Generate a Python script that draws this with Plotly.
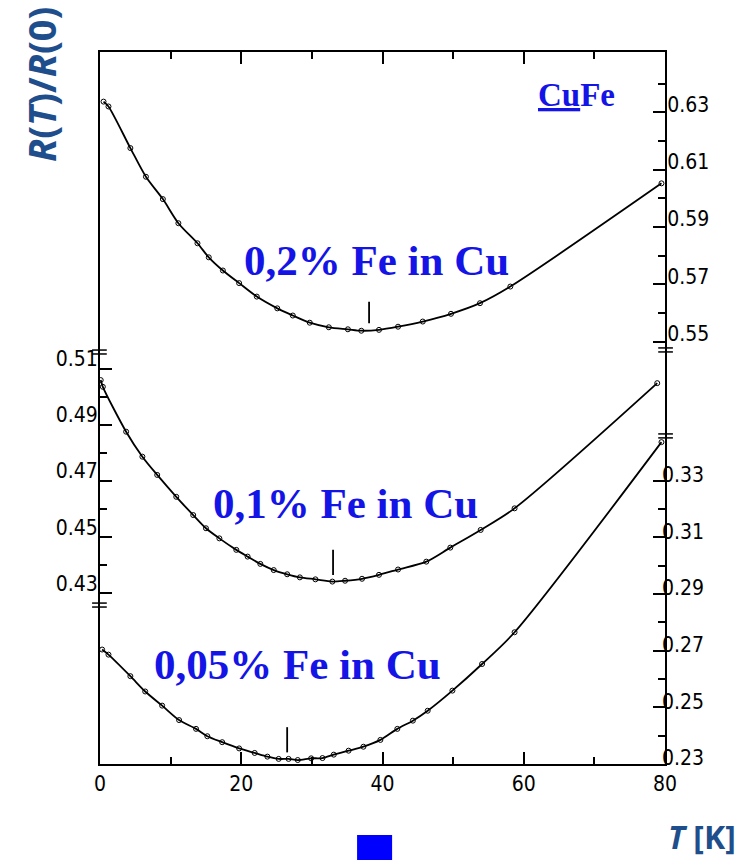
import plotly.graph_objects as go

# ---------------- data ----------------
# 0.2 % Fe in Cu  (right axis, upper section)
T_02 = [0.5, 1.2, 4.3, 6.5, 8.9, 11.1, 13.8, 15.4, 17.4, 19.7, 22.2, 25.1, 27.3, 29.7,
        32.4, 35.1, 37.0, 39.5, 42.2, 45.7, 49.7, 53.8, 58.1, 79.5]
R_02 = [0.6337, 0.6320, 0.6175, 0.6075, 0.5997, 0.5913, 0.5843, 0.5794, 0.5748, 0.5704,
        0.5657, 0.5616, 0.5591, 0.5566, 0.5550, 0.5543, 0.5538, 0.5541, 0.5552, 0.5570,
        0.5597, 0.5634, 0.5692, 0.6052]

# 0.1 % Fe in Cu  (left axis, middle section)
T_01 = [0.1, 0.4, 3.7, 6.0, 8.1, 10.8, 13.2, 15.0, 16.9, 19.3, 20.9, 22.7, 24.6, 26.5,
        28.3, 30.5, 32.9, 34.7, 37.1, 39.5, 42.2, 46.2, 49.6, 53.9, 58.7, 78.9]
R_01 = [0.5060, 0.5036, 0.4876, 0.4787, 0.4722, 0.4644, 0.4579, 0.4532, 0.4496, 0.4455,
        0.4431, 0.4405, 0.4383, 0.4368, 0.4357, 0.4350, 0.4342, 0.4345, 0.4352, 0.4366,
        0.4385, 0.4413, 0.4463, 0.4526, 0.4603, 0.5049]

# 0.05 % Fe in Cu (right axis, lower section)
T_005 = [0.3, 1.2, 4.3, 6.4, 8.8, 11.2, 13.6, 15.2, 17.3, 19.7, 21.9, 23.7, 25.3, 26.7,
         28.0, 29.9, 31.5, 33.1, 35.2, 37.3, 39.7, 42.1, 44.3, 46.4, 49.9, 54.1, 58.7, 79.5]
R_005 = [0.2704, 0.2686, 0.2610, 0.2556, 0.2506, 0.2455, 0.2424, 0.2398, 0.2377, 0.2355,
         0.2339, 0.2326, 0.2318, 0.2318, 0.2314, 0.2320, 0.2321, 0.2333, 0.2347, 0.2361,
         0.2385, 0.2424, 0.2453, 0.2488, 0.2559, 0.2653, 0.2765, 0.3436]

# position of the resistance minimum (short vertical marks)
TMIN = [38.1, 33.0, 26.5]
TMIN_LO = [0.5564, 0.4365, 0.2341]
TMIN_HI = [0.5639, 0.4455, 0.2430]

LABELS = ["0,2% Fe in Cu", "0,1% Fe in Cu", "0,05% Fe in Cu"]

# ticks
X_MAJOR = [0, 20, 40, 60, 80]
X_MINOR = [10, 30, 50, 70]
Y_TOP_MAJOR = [0.55, 0.57, 0.59, 0.61, 0.63]
Y_TOP_MINOR = [0.56, 0.58, 0.60, 0.62, 0.64]
Y_MID_MAJOR = [0.43, 0.45, 0.47, 0.49, 0.51]
Y_MID_MINOR = [0.44, 0.46, 0.48, 0.50]
Y_BOT_MAJOR = [0.23, 0.25, 0.27, 0.29, 0.31, 0.33]
Y_BOT_MINOR = [0.24, 0.26, 0.28, 0.30, 0.32]
Y_TOP_LEFT = [0.55, 0.56, 0.57, 0.58, 0.59, 0.60, 0.61, 0.62, 0.63, 0.64]
Y_BOT_LEFT = [0.24, 0.25, 0.26, 0.27, 0.28]
Y_MID_RIGHT = [0.49, 0.50, 0.51]

# axis breaks (axis, value)
BREAKS_LEFT = [("y", 0.5160), ("y3", 0.2861)]
BREAKS_RIGHT = [("y2", 0.5471), ("y3", 0.3458)]

RANGE_TOP = [0.4027, 0.6510]
RANGE_MID = [0.3692, 0.6229]
RANGE_BOT = [0.2300, 0.4813]

# ---------------- figure ----------------
TICKFONT = dict(family="DejaVu Sans Condensed, sans-serif", size=21, color="black")
BLUE = "#1414E6"
TITLEBLUE = "#1F4E8C"

fig = go.Figure()

line = dict(color="black", width=1.8, shape="spline", smoothing=0.8)
marker = dict(symbol="circle-open", size=5, color="black", line=dict(width=1))

fig.add_trace(go.Scatter(x=T_02, y=R_02, yaxis="y2", mode="lines+markers",
                         line=line, marker=marker, showlegend=False))
fig.add_trace(go.Scatter(x=T_01, y=R_01, yaxis="y", mode="lines+markers",
                         line=line, marker=marker, showlegend=False))
fig.add_trace(go.Scatter(x=T_005, y=R_005, yaxis="y3", mode="lines+markers",
                         line=line, marker=marker, showlegend=False))

for t, lo, hi, ax in zip(TMIN, TMIN_LO, TMIN_HI, ["y2", "y", "y3"]):
    fig.add_trace(go.Scatter(x=[t, t], y=[lo, hi], yaxis=ax, mode="lines",
                             line=dict(color="black", width=1.8), showlegend=False,
                             hoverinfo="skip"))

common = dict(showgrid=False, zeroline=False, ticks="inside", tickcolor="black",
              tickwidth=1.5, ticklen=12, tickfont=TICKFONT, anchor="x",
              ticklabelstandoff=-4)

def minor(vals):
    return dict(tickvals=vals, ticks="inside", ticklen=7, tickcolor="black", tickwidth=1.5)

def ticks_only(rng, side, vals):
    return dict(range=rng, side=side, overlaying="y", showline=False, showgrid=False,
                zeroline=False, ticks="inside", ticklen=7, tickwidth=1.5,
                tickcolor="black", tickvals=vals, showticklabels=False, anchor="x")

fig.update_layout(
    width=747, height=852, autosize=False,
    margin=dict(l=92, r=90, t=44, b=96),
    paper_bgcolor="white", plot_bgcolor="white",
    xaxis=dict(range=[0, 80], showgrid=False, zeroline=False, showline=True,
               linewidth=2, linecolor="black", mirror="ticks",
               ticks="inside", tickvals=X_MAJOR, ticktext=[str(v) for v in X_MAJOR],
               ticklen=12, tickwidth=1.5, tickcolor="black", tickfont=TICKFONT,
               minor=minor(X_MINOR)),
    yaxis=dict(range=RANGE_MID, side="left", showline=True, linewidth=2, linecolor="black",
               tickvals=Y_MID_MAJOR, ticktext=[f"{v:.2f}" for v in Y_MID_MAJOR],
               minor=minor(Y_MID_MINOR), ticklabelshift=-10, **common),
    yaxis2=dict(range=RANGE_TOP, side="right", overlaying="y", showline=True, linewidth=2,
                linecolor="black",
                tickvals=Y_TOP_MAJOR, ticktext=[f"{v:.2f}" for v in Y_TOP_MAJOR],
                minor=minor(Y_TOP_MINOR), ticklabelshift=-8, **common),
    yaxis3=dict(range=RANGE_BOT, side="right", overlaying="y", showline=False,
                tickvals=Y_BOT_MAJOR, ticktext=[f"{v:.2f}" for v in Y_BOT_MAJOR],
                minor=minor(Y_BOT_MINOR), ticklabelshift=-6, **common),
    yaxis4=ticks_only(RANGE_TOP, "left", Y_TOP_LEFT),
    yaxis5=ticks_only(RANGE_BOT, "left", Y_BOT_LEFT),
    yaxis6=ticks_only(RANGE_MID, "right", Y_MID_RIGHT),
)

# axis break marks
shapes = []
gap = 0.0007
for (ax, v) in BREAKS_LEFT:
    for d in (-gap, gap):
        shapes.append(dict(type="line", xref="paper", yref=ax, x0=-0.014, x1=0.012,
                           y0=v + d, y1=v + d, line=dict(color="black", width=1.5)))
for (ax, v) in BREAKS_RIGHT:
    for d in (-gap, gap):
        shapes.append(dict(type="line", xref="paper", yref=ax, x0=0.988, x1=1.014,
                           y0=v + d, y1=v + d, line=dict(color="black", width=1.5)))
# blue square below plot
shapes.append(dict(type="rect", xref="paper", yref="paper", x0=0.455, x1=0.517,
                   y0=-0.136, y1=-0.0997, fillcolor="#0000FF", line=dict(width=0)))
fig.update_layout(shapes=shapes)

serif = dict(family="Liberation Serif, Times New Roman, serif", size=43, color=BLUE)
A = dict(xref="paper", yref="paper", showarrow=False, xanchor="center", yanchor="middle")
ann = [
    dict(text=f"<b>{LABELS[0]}</b>", x=0.4885, y=0.7065, font=serif, **A),
    dict(text=f"<b>{LABELS[1]}</b>", x=0.435, y=0.366, font=serif, **A),
    dict(text=f"<b>{LABELS[2]}</b>", x=0.349, y=0.140, font=serif, **A),
    dict(text="<b><u>Cu</u>Fe</b>", x=0.844, y=0.9396,
         font=dict(family="Liberation Serif, serif", size=33, color=BLUE), **A),
    dict(text="<b><i>R</i>(<i>T</i>)/<i>R</i>(0)</b>", x=-0.1044, y=0.9537, textangle=-90,
         font=dict(family="Open Sans, sans-serif", size=38, color=TITLEBLUE), **A),
    dict(text="<b><i>T</i> [K]</b>", x=1.066, y=-0.102,
         font=dict(family="Open Sans, sans-serif", size=32, color=TITLEBLUE), **A),
]
fig.update_layout(annotations=ann)

fig.write_html("out.html")
